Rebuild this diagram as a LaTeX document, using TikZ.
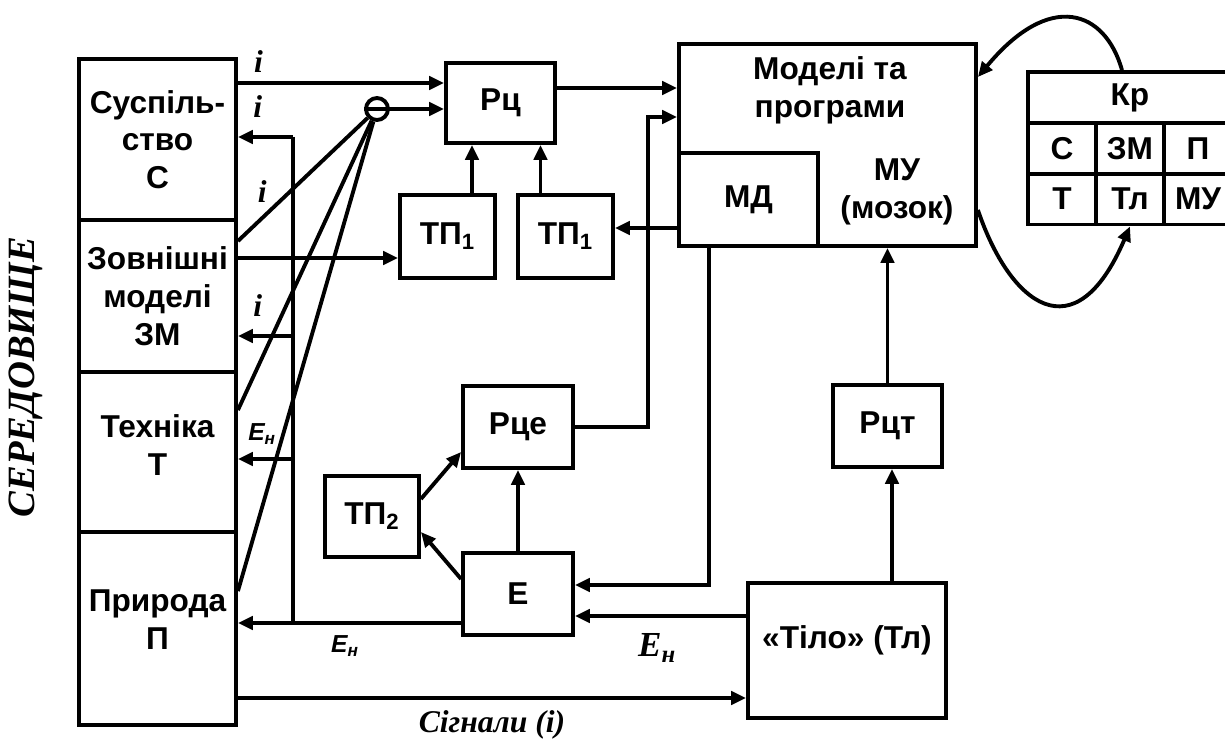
\documentclass[tikz,border=0pt]{standalone}
\usepackage{fontspec}
\setmainfont{Liberation Serif}
\setsansfont{Liberation Sans}
\usetikzlibrary{arrows.meta}

\begin{document}
\begin{tikzpicture}[
    x=0.02cm, y=-0.02cm,
    line width=2.2pt,
    >={Triangle[length=8.5pt,width=7.5pt]},
    box/.style={draw, inner sep=0pt, align=center,
      font=\sffamily\bfseries\fontsize{18}{21.5}\selectfont},
    txt/.style={inner sep=0pt, align=center,
      font=\sffamily\bfseries\fontsize{18}{21.5}\selectfont},
    lbl/.style={inner sep=1pt, font=\rmfamily\bfseries\itshape\fontsize{18}{20}\selectfont},
    slbl/.style={inner sep=1pt, font=\sffamily\bfseries\itshape\fontsize{14}{16}\selectfont}
  ]
  \useasboundingbox (0,0) rectangle (1225,740);
  \clip (0,0) rectangle (1225,740);

  % Environment
  \node[rotate=90, inner sep=0pt, font=\rmfamily\bfseries\itshape\fontsize{22}{26}\selectfont] (env) at (26,377) {СЕРЕДОВИЩЕ};
  \node[box, minimum width=3.14cm, minimum height=3.22cm] (soc) at (157.5,139.5) {Суспіль-\\ство\\С};
  \node[box, minimum width=3.14cm, minimum height=3.04cm] (zm) at (157.5,296) {Зовнішні\\моделі\\ЗМ};
  \node[box, minimum width=3.14cm, minimum height=3.2cm] (tech) at (157.5,452) {};
  \node[txt] (techtxt) at (157.5,445) {Техніка\\Т};
  \node[box, minimum width=3.14cm, minimum height=3.86cm] (nat) at (157.5,628.5) {};
  \node[txt] (nattxt) at (157.5,620) {Природа\\П};

  % Hub and receptors
  \node[draw, circle, minimum size=0.44cm, inner sep=0pt] (hub) at (377,109) {};
  \draw (hub.west) -- (hub.east);
  \node[box, minimum width=2.18cm, minimum height=1.6cm] (rc) at (500.5,103) {Рц};
  \node[box, minimum width=1.9cm, minimum height=1.66cm] (tpA) at (447.5,236.5) {ТП\textsubscript{1}};
  \node[box, minimum width=1.9cm, minimum height=1.66cm] (tpB) at (565.5,236.5) {ТП\textsubscript{1}};

  % Models and programs
  \node[box, minimum width=5.94cm, minimum height=4.04cm] (mp) at (827.5,145) {};
  \node[txt] (mptxt) at (830,90) {Моделі та\\програми};
  \node[box, minimum width=2.78cm, minimum height=1.86cm] (md) at (748.5,199.5) {МД};
  \node[txt] (mu) at (897,192) {МУ\\(мозок)};

  % Kr table
  \node[box, minimum width=4.08cm, minimum height=1.02cm] (kr) at (1130,97.5) {Кр};
  \node[box, minimum width=1.36cm, minimum height=1.02cm] (krC) at (1062,148.5) {С};
  \node[box, minimum width=1.36cm, minimum height=1.02cm] (krZM) at (1130,148.5) {ЗМ};
  \node[box, minimum width=1.36cm, minimum height=1.02cm] (krP) at (1198,148.5) {П};
  \node[box, minimum width=1.36cm, minimum height=1.02cm] (krT) at (1062,199) {Т};
  \node[box, minimum width=1.36cm, minimum height=1.02cm] (krTl) at (1130,199) {Тл};
  \node[box, minimum width=1.36cm, minimum height=1.02cm] (krMU) at (1198,199) {МУ};

  % Lower blocks
  \node[box, minimum width=2.2cm, minimum height=1.64cm] (rce) at (518,427) {Рце};
  \node[box, minimum width=1.88cm, minimum height=1.62cm] (tp2) at (372,516.5) {ТП\textsubscript{2}};
  \node[box, minimum width=2.2cm, minimum height=1.64cm] (e) at (518,594) {Е};
  \node[box, minimum width=2.18cm, minimum height=1.64cm] (rct) at (887.5,426) {Рцт};
  \node[box, minimum width=3.96cm, minimum height=2.7cm] (tl) at (847,650.5) {};
  \node[txt] (tltxt) at (847,640) {«Тіло» (Тл)};

  % Helper points
  \coordinate (rcA) at ([yshift=4mm]rc.west);
  \coordinate (rcB) at ([xshift=-5.7mm]rc.south);
  \coordinate (rcC) at ([xshift=8mm]rc.south);
  \coordinate (rcOut) at ([yshift=3mm]rc.east);
  \coordinate (tpAin) at ([yshift=-4.3mm]tpA.west);
  \coordinate (mdOut) at ([yshift=-5.7mm]md.west);
  \coordinate (mdDown) at ([xshift=-7.9mm]md.south);
  \coordinate (mpIn) at ([yshift=5.6mm]mp.west);
  \coordinate (eIn1) at ([yshift=1.8mm]e.east);
  \coordinate (eIn2) at ([yshift=-4.4mm]e.east);
  \coordinate (eOut) at ([yshift=-5.8mm]e.west);
  \coordinate (tlUp) at ([xshift=9mm]tl.north);
  \coordinate (sigIn) at ([yshift=-9.5mm]tl.west);
  \coordinate (busT) at (293,137);
  \coordinate (busZ) at (293,336);
  \coordinate (busE) at (293,459);

  % Signals into receptors
  \draw[->] (soc.east |- rcA) -- (rcA) node[pos=.1, above=4pt, lbl] {i};
  \draw[->] (hub) -- (hub -| rc.west);
  \draw (hub) -- ([yshift=-4.6mm]zm.north east) node[pos=.6, left=11pt, lbl] {i};
  \draw (hub) -- ([yshift=-8mm]tech.north east);
  \draw (hub) -- ([yshift=-12.2mm]nat.north east);
  \draw[->] (zm.east |- tpAin) -- (tpAin);
  \draw[->] (rcB |- tpA.north) -- (rcB);
  \draw[->] (rcC |- tpB.north) -- (rcC);
  \draw[->] (mdOut) -- (mdOut -| tpB.east);
  \draw[->] (rcOut) -- (rcOut -| mp.west);
  \draw[->] (rce.east) -- ++(1.46cm,0) |- (mpIn);

  % Feedback bus to the environment
  \draw (busT) -- (busT |- eOut);
  \draw[->] (busT) -- (busT -| soc.east) node[pos=.64, above=9pt, lbl] {i};
  \draw[->] (busZ) -- (busZ -| zm.east) node[pos=.64, above=9pt, lbl] {i};
  \draw[->] (busE) -- (busE -| tech.east) node[pos=.56, above=6pt, slbl] {E\textsubscript{н}};
  \draw[->] (eOut) -- (eOut -| nat.east) node[pos=.52, below=5pt, slbl] {E\textsubscript{н}};

  % Effectors
  \draw[->] (mdDown) |- (eIn1);
  \draw[->] (eIn2 -| tl.west) -- (eIn2) node[pos=.52, below=8pt, lbl, font=\rmfamily\bfseries\itshape\fontsize{20}{22}\selectfont] {E\textsubscript{н}};
  \draw[->] (e) -- (rce);
  \draw[->] ([yshift=3.5mm]tp2.east) -- ([yshift=-5mm]rce.west);
  \draw[->] ([yshift=3mm]e.west) -- ([yshift=-3.1mm]tp2.east);
  \draw[->] (tlUp) -- (tlUp |- rct.south);
  \draw[->] (rct.north) -- (rct.north |- mp.south);
  \draw[->] (nat.east |- sigIn) -- (sigIn) node[midway, below=5pt, lbl] {Сігнали (і)};

  % Loops with the Kr table
  \draw[->] ([xshift=-1.6mm]kr.north) .. controls (1105,10) and (1050,-10) .. ([yshift=13.6mm]mp.east);
  \draw[->] ([yshift=-13mm]mp.east) .. controls (1010,305) and (1075,355) .. (krTl.south);
\end{tikzpicture}
\end{document}
